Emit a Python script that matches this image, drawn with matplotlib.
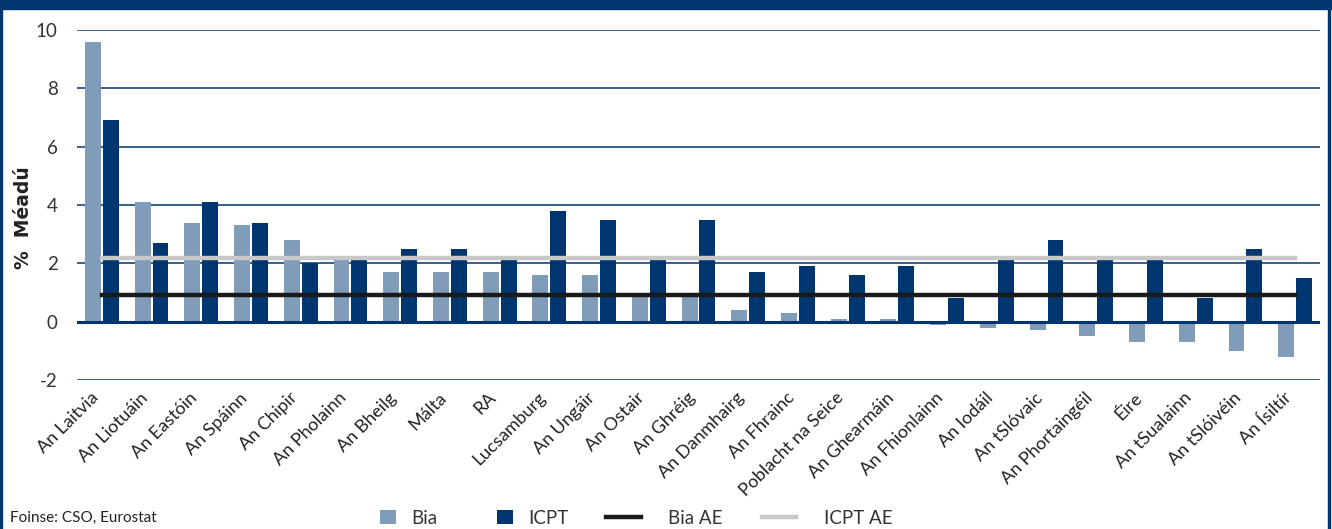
import matplotlib
matplotlib.use("Agg")
import matplotlib.pyplot as plt
import matplotlib.transforms as mtransforms
import numpy as np
from matplotlib.patches import Rectangle

plt.rcParams['font.family'] = ['Lato', 'DejaVu Sans']

countries = ["An Laitvia", "An Liotuáin", "An Eastóin", "An Spáinn", "An Chipir",
             "An Pholainn", "An Bheilg", "Málta", "RA", "Lucsamburg", "An Ungáir",
             "An Ostair", "An Ghréig", "An Danmhairg", "An Fhrainc",
             "Poblacht na Seice", "An Ghearmáin", "An Fhionlainn", "An Iodáil",
             "An tSlóvaic", "An Phortaingéil", "Éire", "An tSualainn",
             "An tSlóivéin", "An Ísiltír"]
bia = [9.6, 4.1, 3.4, 3.3, 2.8, 2.2, 1.7, 1.7, 1.7, 1.6, 1.6, 1.0, 0.9, 0.4, 0.3,
       0.1, 0.1, -0.1, -0.2, -0.3, -0.5, -0.7, -0.7, -1.0, -1.2]
icpt = [6.9, 2.7, 4.1, 3.4, 2.0, 2.1, 2.5, 2.5, 2.1, 3.8, 3.5, 2.1, 3.5, 1.7, 1.9,
        1.6, 1.9, 0.8, 2.1, 2.8, 2.1, 2.1, 0.8, 2.5, 1.5]
bia_ae = 0.9
icpt_ae = 2.2
yticks = [-2, 0, 2, 4, 6, 8, 10]

NAVY = "#003670"
LIGHT = "#809CB9"
TXT = "#333333"

fig = plt.figure(figsize=(13.32, 5.29), dpi=100)
W, H = 1332, 529
ax = fig.add_axes([77 / W, 1 - 380 / H, (1320 - 77) / W, (380 - 30) / H])

x = np.arange(len(countries))
bw = 0.32
b1 = ax.bar(x - 0.18, bia, width=bw, color=LIGHT, label="Bia", zorder=2)
b2 = ax.bar(x + 0.18, icpt, width=bw, color=NAVY, label="ICPT", zorder=2)
l1, = ax.plot([x[0], x[-1]], [bia_ae, bia_ae], color="#1a1a1a", lw=3.2,
              label="Bia AE", zorder=3)
l2, = ax.plot([x[0], x[-1]], [icpt_ae, icpt_ae], color="#C8C8C8", lw=3.2,
              label="ICPT AE", zorder=3)

ax.set_xlim(-0.5, len(countries) - 0.5)
ax.set_ylim(-2, 10)
ax.set_yticks(yticks)
ax.set_yticklabels([str(v) for v in yticks], fontsize=13.5, color=TXT)
for v in yticks:
    ax.axhline(v, color=NAVY, lw=2.2 if v == 0 else 1.1, zorder=1 if v != 0 else 2.5)
for s in ax.spines.values():
    s.set_visible(False)
ax.tick_params(axis='both', length=0)
ax.tick_params(axis='y', pad=14)
ax.set_xticks(x)
ax.set_xticklabels(countries, rotation=45, ha='right', rotation_mode='anchor',
                   fontsize=13, color="#222222")
ax.tick_params(axis='x', pad=7)
offset = mtransforms.ScaledTranslation(-12 / 100, 0, fig.dpi_scale_trans)
for lab in ax.get_xticklabels():
    lab.set_transform(lab.get_transform() + offset)

fig.text(24 / W, 1 - 218 / H, "%  Méadú", rotation=90, ha='center', va='center',
         fontsize=13.5, fontweight='bold', family=['DejaVu Sans'], color="#222222")
fig.text(10 / W, 1 - 518 / H, "Foinse: CSO, Eurostat", ha='left', va='center',
         fontsize=11, color="#222222")

fig.legend([b1, b2], ["Bia", "ICPT"], loc='center left',
           bbox_to_anchor=(380 / W, 1 - 518 / H), ncol=2, frameon=False,
           fontsize=13.5, handlelength=0.85, handleheight=0.85,
           handletextpad=0.8, columnspacing=3.2, borderpad=0,
           borderaxespad=0, labelcolor=TXT)
fig.legend([l1, l2], ["Bia AE", "ICPT AE"], loc='center left',
           bbox_to_anchor=(606 / W, 1 - 518 / H), ncol=2, frameon=False,
           fontsize=13.5, handlelength=1.85, handletextpad=1.45,
           columnspacing=2.1, borderpad=0, borderaxespad=0, labelcolor=TXT)

# frame
fig.patches.append(Rectangle((0, 1 - 9 / H), 1, 9 / H, transform=fig.transFigure,
                             color=NAVY, zorder=10))
fig.patches.append(Rectangle((0, 0), 2 / W, 1, transform=fig.transFigure,
                             color=NAVY, zorder=10))
fig.patches.append(Rectangle((1 - 4 / W, 0), 2 / W, 1, transform=fig.transFigure,
                             color=NAVY, zorder=10))

fig.savefig("out.png", dpi=100)
